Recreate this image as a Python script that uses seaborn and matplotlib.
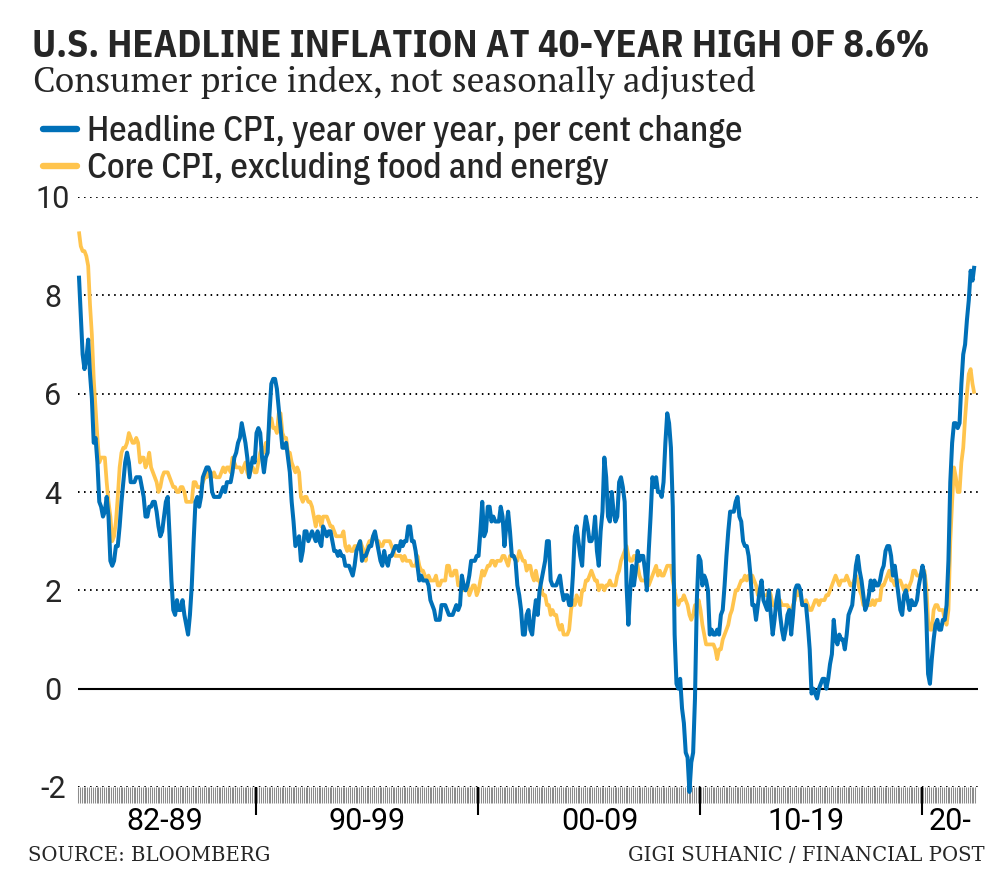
import matplotlib
matplotlib.use("Agg")
import numpy as np
import pandas as pd
import seaborn as sns
import matplotlib.pyplot as plt
from matplotlib import font_manager as fm
from matplotlib.ticker import FixedLocator, NullFormatter

# ---------------- data (monthly, Jan 1982 - May 2022, year-over-year % change) -------------
start_year = 1982
headline_cpi = [
    8.4, 7.6, 6.8, 6.5, 6.7, 7.1, 6.4, 5.9, 5.0, 5.1, 4.6, 3.8,   # 1982
    3.7, 3.5, 3.6, 3.9, 3.5, 2.6, 2.5, 2.6, 2.9, 2.9, 3.3, 3.8,   # 1983
    4.2, 4.6, 4.8, 4.6, 4.2, 4.2, 4.2, 4.3, 4.3, 4.3, 4.1, 3.9,   # 1984
    3.5, 3.5, 3.7, 3.7, 3.8, 3.8, 3.6, 3.3, 3.1, 3.2, 3.5, 3.8,   # 1985
    3.9, 3.1, 2.2, 1.6, 1.5, 1.8, 1.6, 1.6, 1.8, 1.5, 1.3, 1.1,   # 1986
    1.5, 2.1, 3.0, 3.8, 3.9, 3.7, 3.9, 4.3, 4.4, 4.5, 4.5, 4.4,   # 1987
    4.0, 3.9, 3.9, 3.9, 3.9, 4.0, 4.1, 4.0, 4.2, 4.2, 4.2, 4.4,   # 1988
    4.7, 4.8, 5.0, 5.1, 5.4, 5.2, 5.0, 4.7, 4.3, 4.5, 4.7, 4.6,   # 1989
    5.2, 5.3, 5.2, 4.7, 4.4, 4.7, 4.8, 5.6, 6.2, 6.3, 6.3, 6.1,   # 1990
    5.7, 5.3, 4.9, 4.9, 5.0, 4.7, 4.4, 3.8, 3.4, 2.9, 3.0, 3.1,   # 1991
    2.6, 2.8, 3.2, 3.2, 3.0, 3.1, 3.2, 3.1, 3.0, 3.2, 3.0, 2.9,   # 1992
    3.3, 3.2, 3.1, 3.2, 3.2, 3.0, 2.8, 2.8, 2.7, 2.8, 2.7, 2.7,   # 1993
    2.5, 2.5, 2.5, 2.4, 2.3, 2.5, 2.8, 2.9, 3.0, 2.6, 2.7, 2.7,   # 1994
    2.8, 2.9, 2.9, 3.1, 3.2, 3.0, 2.8, 2.6, 2.5, 2.8, 2.6, 2.5,   # 1995
    2.7, 2.7, 2.8, 2.9, 2.9, 2.8, 3.0, 2.9, 3.0, 3.0, 3.3, 3.3,   # 1996
    3.0, 3.0, 2.8, 2.5, 2.2, 2.3, 2.2, 2.2, 2.2, 2.1, 1.8, 1.7,   # 1997
    1.6, 1.4, 1.4, 1.4, 1.7, 1.7, 1.7, 1.6, 1.5, 1.5, 1.5, 1.6,   # 1998
    1.7, 1.6, 1.7, 2.3, 2.1, 2.0, 2.1, 2.3, 2.6, 2.6, 2.6, 2.7,   # 1999
    2.7, 3.2, 3.8, 3.1, 3.2, 3.7, 3.7, 3.4, 3.5, 3.4, 3.4, 3.4,   # 2000
    3.7, 3.5, 2.9, 3.3, 3.6, 3.2, 2.7, 2.7, 2.6, 2.1, 1.9, 1.6,   # 2001
    1.1, 1.1, 1.5, 1.6, 1.2, 1.1, 1.5, 1.8, 1.5, 2.0, 2.2, 2.4,   # 2002
    2.6, 3.0, 3.0, 2.2, 2.1, 2.1, 2.1, 2.2, 2.3, 2.0, 1.8, 1.9,   # 2003
    1.9, 1.7, 1.7, 2.3, 3.1, 3.3, 3.0, 2.7, 2.5, 3.2, 3.5, 3.3,   # 2004
    3.0, 3.0, 3.1, 3.5, 2.8, 2.5, 3.2, 3.6, 4.7, 4.3, 3.5, 3.4,   # 2005
    4.0, 3.6, 3.4, 3.5, 4.2, 4.3, 4.1, 3.8, 2.1, 1.3, 2.0, 2.5,   # 2006
    2.1, 2.4, 2.8, 2.6, 2.7, 2.7, 2.4, 2.0, 2.8, 3.5, 4.3, 4.1,   # 2007
    4.3, 4.0, 4.0, 3.9, 4.2, 5.0, 5.6, 5.4, 4.9, 3.7, 1.1, 0.1,   # 2008
    0.0, 0.2, -0.4, -0.7, -1.3, -1.4, -2.1, -1.5, -1.3, -0.2, 1.8, 2.7,  # 2009
    2.6, 2.1, 2.3, 2.2, 2.0, 1.1, 1.2, 1.1, 1.1, 1.2, 1.1, 1.5,   # 2010
    1.6, 2.1, 2.7, 3.2, 3.6, 3.6, 3.6, 3.8, 3.9, 3.5, 3.4, 3.0,   # 2011
    2.9, 2.9, 2.7, 2.3, 1.7, 1.7, 1.4, 1.7, 2.0, 2.2, 1.8, 1.7,   # 2012
    1.6, 2.0, 1.5, 1.1, 1.4, 1.8, 2.0, 1.5, 1.2, 1.0, 1.2, 1.5,   # 2013
    1.6, 1.1, 1.5, 2.0, 2.1, 2.1, 2.0, 1.7, 1.7, 1.7, 1.3, 0.8,   # 2014
    -0.1, 0.0, -0.1, -0.2, 0.0, 0.1, 0.2, 0.2, 0.0, 0.2, 0.5, 0.7,  # 2015
    1.4, 1.0, 0.9, 1.1, 1.0, 1.0, 0.8, 1.1, 1.5, 1.6, 1.7, 2.1,   # 2016
    2.5, 2.7, 2.4, 2.2, 1.9, 1.6, 1.7, 1.9, 2.2, 2.0, 2.2, 2.1,   # 2017
    2.1, 2.2, 2.4, 2.5, 2.8, 2.9, 2.9, 2.7, 2.3, 2.5, 2.2, 1.9,   # 2018
    1.6, 1.5, 1.9, 2.0, 1.8, 1.6, 1.8, 1.7, 1.7, 1.8, 2.1, 2.3,   # 2019
    2.5, 2.3, 1.5, 0.3, 0.1, 0.6, 1.0, 1.3, 1.4, 1.2, 1.2, 1.4,   # 2020
    1.4, 1.7, 2.6, 4.2, 5.0, 5.4, 5.4, 5.3, 5.4, 6.2, 6.8, 7.0,   # 2021
    7.5, 7.9, 8.5, 8.3, 8.6,                                      # 2022
]
core_cpi = [
    9.3, 9.0, 8.9, 8.9, 8.8, 8.6, 7.8, 7.2, 6.3, 5.7, 5.1, 4.6,   # 1982
    4.7, 4.7, 4.7, 4.2, 3.8, 3.5, 3.0, 3.1, 3.4, 3.9, 4.5, 4.8,   # 1983
    4.9, 4.9, 5.0, 5.2, 5.1, 5.0, 5.0, 5.1, 5.0, 4.6, 4.7, 4.7,   # 1984
    4.5, 4.6, 4.8, 4.5, 4.4, 4.3, 4.2, 4.0, 4.1, 4.3, 4.4, 4.4,   # 1985
    4.4, 4.3, 4.2, 4.1, 4.1, 4.0, 4.0, 4.1, 4.1, 4.0, 3.8, 3.8,   # 1986
    3.8, 3.8, 4.2, 4.2, 4.1, 4.1, 4.1, 4.2, 4.3, 4.3, 4.4, 4.3,   # 1987
    4.3, 4.4, 4.3, 4.3, 4.3, 4.4, 4.5, 4.4, 4.5, 4.5, 4.4, 4.7,   # 1988
    4.6, 4.5, 4.5, 4.5, 4.4, 4.5, 4.6, 4.4, 4.3, 4.5, 4.5, 4.4,   # 1989
    4.4, 4.6, 4.8, 4.9, 4.8, 5.0, 5.0, 5.4, 5.5, 5.3, 5.3, 5.2,   # 1990
    5.6, 5.6, 5.2, 5.1, 5.1, 4.8, 4.8, 4.6, 4.5, 4.4, 4.5, 4.4,   # 1991
    3.9, 3.8, 3.9, 3.9, 3.8, 3.8, 3.7, 3.5, 3.3, 3.5, 3.5, 3.3,   # 1992
    3.5, 3.5, 3.5, 3.4, 3.3, 3.3, 3.2, 3.1, 3.1, 3.1, 3.1, 3.2,   # 1993
    2.9, 2.8, 2.9, 2.8, 2.8, 2.9, 2.9, 2.9, 3.0, 2.9, 2.8, 2.6,   # 1994
    2.9, 3.0, 3.0, 3.1, 3.1, 3.0, 3.0, 2.9, 2.9, 3.0, 3.0, 3.0,   # 1995
    3.0, 2.9, 2.8, 2.7, 2.7, 2.7, 2.7, 2.6, 2.7, 2.6, 2.6, 2.6,   # 1996
    2.5, 2.5, 2.5, 2.7, 2.5, 2.4, 2.4, 2.3, 2.2, 2.3, 2.2, 2.2,   # 1997
    2.2, 2.3, 2.1, 2.1, 2.2, 2.2, 2.2, 2.5, 2.5, 2.3, 2.3, 2.4,   # 1998
    2.4, 2.1, 2.1, 2.2, 2.0, 2.1, 2.1, 1.9, 2.0, 2.1, 2.1, 1.9,   # 1999
    2.0, 2.2, 2.4, 2.3, 2.4, 2.5, 2.5, 2.6, 2.6, 2.5, 2.6, 2.6,   # 2000
    2.6, 2.7, 2.7, 2.6, 2.5, 2.7, 2.7, 2.7, 2.6, 2.6, 2.8, 2.7,   # 2001
    2.6, 2.6, 2.4, 2.5, 2.5, 2.3, 2.2, 2.4, 2.2, 2.2, 2.0, 1.9,   # 2002
    1.9, 1.7, 1.7, 1.5, 1.6, 1.5, 1.5, 1.3, 1.2, 1.3, 1.1, 1.1,   # 2003
    1.1, 1.2, 1.6, 1.8, 1.7, 1.9, 1.8, 1.7, 2.0, 2.0, 2.2, 2.2,   # 2004
    2.3, 2.4, 2.3, 2.2, 2.2, 2.0, 2.1, 2.1, 2.0, 2.1, 2.1, 2.2,   # 2005
    2.1, 2.1, 2.1, 2.3, 2.4, 2.6, 2.7, 2.8, 2.9, 2.7, 2.6, 2.6,   # 2006
    2.7, 2.7, 2.5, 2.3, 2.2, 2.2, 2.2, 2.1, 2.1, 2.2, 2.3, 2.4,   # 2007
    2.5, 2.3, 2.4, 2.3, 2.3, 2.4, 2.5, 2.5, 2.5, 2.2, 2.0, 1.8,   # 2008
    1.7, 1.8, 1.8, 1.9, 1.8, 1.7, 1.5, 1.4, 1.5, 1.7, 1.7, 1.8,   # 2009
    1.6, 1.3, 1.1, 0.9, 0.9, 0.9, 0.9, 0.9, 0.8, 0.6, 0.8, 0.8,   # 2010
    1.0, 1.1, 1.2, 1.3, 1.5, 1.6, 1.8, 2.0, 2.0, 2.1, 2.2, 2.2,   # 2011
    2.3, 2.2, 2.3, 2.3, 2.3, 2.2, 2.1, 1.9, 2.0, 2.0, 1.9, 1.9,   # 2012
    1.9, 2.0, 1.9, 1.7, 1.7, 1.6, 1.7, 1.8, 1.7, 1.7, 1.7, 1.7,   # 2013
    1.6, 1.6, 1.7, 1.8, 2.0, 1.9, 1.9, 1.7, 1.7, 1.8, 1.7, 1.6,   # 2014
    1.6, 1.7, 1.8, 1.8, 1.7, 1.8, 1.8, 1.8, 1.9, 1.9, 2.0, 2.1,   # 2015
    2.2, 2.3, 2.2, 2.1, 2.2, 2.2, 2.2, 2.3, 2.2, 2.1, 2.1, 2.2,   # 2016
    2.3, 2.2, 2.0, 1.9, 1.7, 1.7, 1.7, 1.7, 1.7, 1.8, 1.7, 1.8,   # 2017
    1.8, 1.8, 2.1, 2.1, 2.2, 2.3, 2.4, 2.2, 2.2, 2.1, 2.2, 2.2,   # 2018
    2.2, 2.1, 2.0, 2.1, 2.0, 2.1, 2.2, 2.4, 2.4, 2.3, 2.3, 2.3,   # 2019
    2.3, 2.4, 2.1, 1.4, 1.2, 1.2, 1.6, 1.7, 1.7, 1.6, 1.6, 1.6,   # 2020
    1.4, 1.3, 1.6, 3.0, 3.8, 4.5, 4.3, 4.0, 4.0, 4.6, 4.9, 5.5,   # 2021
    6.0, 6.4, 6.5, 6.2, 6.0,                                      # 2022
]
series_labels = ["Headline CPI, year over year, per cent change",
                 "Core CPI, excluding food and energy"]
decade_labels = ["82-89", "90-99", "00-09", "10-19", "20-"]
decade_label_pos = [1985.9, 1995.0, 2005.5, 2014.8, 2021.3]
major_tick_years = [1990, 2000, 2010, 2020]
y_ticks = [-2, 0, 2, 4, 6, 8, 10]

title = "U.S. HEADLINE INFLATION AT 40-YEAR HIGH OF 8.6%"
subtitle = "Consumer price index, not seasonally adjusted"
source = "SOURCE: BLOOMBERG"
credit = "GIGI SUHANIC / FINANCIAL POST"

# ---------------- fonts ----------------
available = {f.name for f in fm.fontManager.ttflist}
def pick(*names):
    for n in names:
        if n in available:
            return n
    return "DejaVu Sans"

F_COND = pick("IBM Plex Sans Condensed", "Open Sans Condensed", "Roboto Condensed", "Liberation Sans Narrow")
F_TITLE = pick("IBM Plex Sans Condensed", "Open Sans Condensed", "Oswald")
F_SANS = pick("Roboto", "Lato", "Open Sans", "DejaVu Sans")
F_SERIF = pick("PT Serif", "Noto Serif", "Liberation Serif", "DejaVu Serif")
F_FOOT = pick("DejaVu Serif", "Noto Serif", "Liberation Serif")

BLUE = "#0070b8"
YELLOW = "#ffc44d"

# ---------------- dataframe ----------------
n = len(headline_cpi)
t = start_year + (np.arange(n) + 0.5) / 12.0
df = pd.DataFrame({
    "t": np.concatenate([t, t]),
    "value": headline_cpi + core_cpi,
    "series": [series_labels[0]] * n + [series_labels[1]] * len(core_cpi),
})

sns.set_style("white")
plt.rcParams["font.family"] = [F_SANS, "DejaVu Sans"]

fig = plt.figure(figsize=(10, 8.73), dpi=100)
ax = fig.add_axes([0.078, 1 - 787 / 873, 0.900, (787 - 197) / 873])

sns.lineplot(data=df, x="t", y="value", hue="series",
             hue_order=[series_labels[1], series_labels[0]],
             palette={series_labels[0]: BLUE, series_labels[1]: YELLOW},
             ax=ax, legend=False, linewidth=2.9, estimator=None)
for ln in ax.get_lines():
    ln.set_clip_on(False)
    ln.set_solid_joinstyle("round")
    ln.set_solid_capstyle("butt")
ax.get_lines()[0].set_linewidth(2.7)

ax.set_xlim(1982.0, 2022.54)
ax.set_ylim(-2, 10)
ax.set_xlabel("")
ax.set_ylabel("")
for s in ax.spines.values():
    s.set_visible(False)

# grid lines
for yv in y_ticks:
    if yv == 0:
        ax.axhline(yv, color="black", lw=1.5, zorder=1)
    else:
        ax.axhline(yv, color="black", lw=1.4, ls=(0, (0.8, 2.3)), zorder=1)

# y ticks
ax.set_yticks(y_ticks)
ax.set_yticklabels([str(v) for v in y_ticks], fontsize=22, family=F_SANS)
ax.tick_params(axis="y", left=False, length=0, pad=18)
for lab in ax.get_yticklabels():
    lab.set_horizontalalignment("center")

# x ticks: monthly minor, decade major
months = start_year + np.arange(0, n + 1) / 12.0
ax.xaxis.set_minor_locator(FixedLocator(months))
ax.xaxis.set_major_locator(FixedLocator(major_tick_years))
ax.xaxis.set_major_formatter(NullFormatter())
ax.xaxis.set_minor_formatter(NullFormatter())
ax.tick_params(axis="x", which="both", bottom=True, top=False)
ax.tick_params(axis="x", which="minor", length=11.5, width=0.75, color="#8c8c8c", direction="out")
ax.tick_params(axis="x", which="major", length=20, width=1.5, color="black", direction="out")

for lab, xp in zip(decade_labels, decade_label_pos):
    ax.text(xp, -0.059, lab, transform=ax.get_xaxis_transform(), ha="center", va="center",
            fontsize=22, family=F_SANS, color="black")

# titles
fig.text(0.032, 1 - 57 / 873, title, fontsize=27.6, fontweight="bold",
         family=[F_TITLE, "DejaVu Sans"], ha="left", va="baseline")
fig.text(0.033, 1 - 92 / 873, subtitle, fontsize=25.3,
         family=[F_SERIF, "DejaVu Serif"], ha="left", va="baseline")

# legend
handles = [plt.Line2D([], [], color=BLUE, lw=4.6, solid_capstyle="round"),
           plt.Line2D([], [], color=YELLOW, lw=4.6, solid_capstyle="round")]
leg = fig.legend(handles, series_labels, loc="upper left",
                 bbox_to_anchor=(0.043, 1 - 115 / 873), frameon=False,
                 prop={"family": [F_COND, "DejaVu Sans"], "size": 25, "weight": "medium"},
                 handlelength=0.97, handletextpad=0.3, labelspacing=0.12,
                 borderpad=0, borderaxespad=0)

# footer
fig.text(0.028, 1 - 861 / 873, source, fontsize=14.1, family=[F_FOOT, "DejaVu Serif"],
         ha="left", va="baseline")
fig.text(0.985, 1 - 861 / 873, credit, fontsize=14.1, family=[F_FOOT, "DejaVu Serif"],
         ha="right", va="baseline")

fig.savefig("out.png", dpi=100, facecolor="white")
